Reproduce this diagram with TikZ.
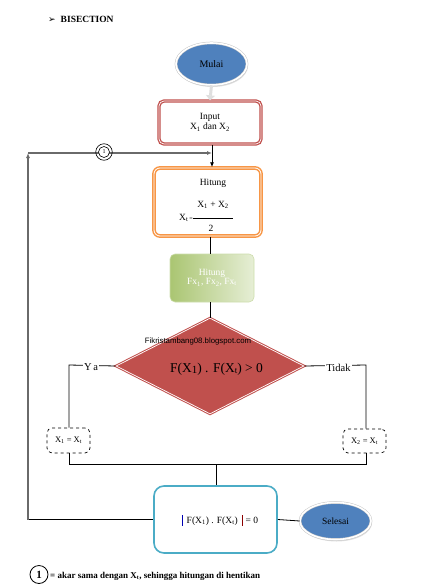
\documentclass[tikz,border=0pt]{standalone}
\usepackage{fontspec}
\setmainfont{Liberation Serif}
\newfontfamily\dejavu{DejaVu Sans}
\newfontfamily\wmfont{Liberation Sans}
\usetikzlibrary{shapes.geometric,arrows.meta,shadows}
\definecolor{sblue}{HTML}{4F81BD}
\definecolor{sred}{HTML}{C0504D}
\definecolor{sorange}{HTML}{F79646}
\definecolor{sgreen}{HTML}{9BBB59}
\definecolor{steal}{HTML}{4BACC6}
\definecolor{loopgray}{HTML}{6A6A6A}
\tikzset{
  fs/.style={font=\fontsize{#1}{11}\selectfont},
  startend/.style={ellipse, fill=sblue, draw=gray!45, double=white, double distance=1.6pt, line width=0.5pt,
    drop shadow={opacity=0.25, shadow xshift=1pt, shadow yshift=-2pt}, inner sep=0pt},
  inbox/.style={rectangle, rounded corners=5pt, draw=sred, double=white, double distance=0.7pt, line width=1.3pt,
    fill=white, align=center, inner sep=0pt},
  calcbox/.style={rectangle, rounded corners=6pt, draw=sorange, double=white, double distance=0.8pt, line width=1.5pt,
    fill=white, inner sep=0pt},
  greenbox/.style={rectangle, rounded corners=5pt, draw=sgreen!50, line width=0.6pt,
    left color=sgreen!85, right color=sgreen!25, align=center, inner sep=0pt, text=white},
  decision/.style={diamond, fill=sred, draw=sred, double=white, double distance=0.7pt, line width=1pt,
    inner sep=0pt},
  dashbox/.style={rectangle, rounded corners=5pt, draw, dashed, line width=0.7pt, fill=white, inner sep=0pt},
  endbox/.style={rectangle, rounded corners=10pt, draw=steal, line width=1.6pt, fill=white, inner sep=0pt},
  conn/.style={draw=black, line width=0.8pt},
  loopline/.style={draw=loopgray, line width=1.3pt},
  lbl/.style={fill=white, inner sep=1.5pt, font=\fontsize{10.5}{12}\selectfont},
}
\begin{document}
\begin{tikzpicture}[x=1pt,y=-1pt]
\useasboundingbox (0,0) rectangle (433,586);

% title
\node[anchor=west, inner sep=0pt] (title) at (48,19)
  {{\dejavu\fontsize{9}{10}\selectfont ➢}\hspace{5pt}{\bfseries\fontsize{9.5}{11}\selectfont BISECTION}};

% nodes
\node[startend, minimum width=71pt, minimum height=42pt, fs=10] (mulai) at (211.5,64) {Mulai};
\node[inbox, minimum width=102pt, minimum height=43pt, fs=9.5] (input) at (210,122.5)
  {Input\\[-1pt]X\textsubscript{1} dan X\textsubscript{2}};
\node[calcbox, minimum width=107pt, minimum height=68pt] (hitung) at (207.5,202) {};
\node[fs=9.5, inner sep=0pt] (hitt) at (213,183.5) {Hitung};
\node[fs=9.5, inner sep=0pt] (num) at (213,205) {X\textsubscript{1} + X\textsubscript{2}};
\coordinate (fl) at (193,218);
\coordinate (fr) at (233,218);
\node[fs=9.5, inner sep=0pt, anchor=east] (xt) at (193,217.5) {X\textsubscript{t}{\fontsize{6}{7}\selectfont\,=}};
\node[fs=9.5, inner sep=0pt] (den) at (211,228.5) {2};
\node[greenbox, minimum width=84pt, minimum height=48pt, fs=9.5] (green) at (212,278)
  {Hitung\\[-2pt]Fx\textsubscript{1}, Fx\textsubscript{2}, Fx\textsubscript{t}};
\node[decision, minimum width=188pt, minimum height=96pt] (dia) at (210,366) {};
\node[fs=13.5, inner sep=0pt] (diat) at (216.5,369)
  {F(X\raisebox{-1pt}{\fontsize{11}{12}\selectfont 1}) . F(X\raisebox{-1.5pt}{\fontsize{9}{10}\selectfont t}) > 0};
\node[font=\wmfont\fontsize{7.8}{9}\selectfont, inner sep=0pt] (wm) at (198,341) {Fikristambang08.blogspot.com};

\node[dashbox, minimum width=43pt, minimum height=25pt, fs=8.5] (lbox) at (68.5,440.5)
  {X\textsubscript{1} = X\textsubscript{t}};
\node[dashbox, minimum width=43pt, minimum height=24pt, fs=8.5] (rbox) at (364.5,441)
  {X\textsubscript{2} = X\textsubscript{t}};

\node[endbox, minimum width=123pt, minimum height=67pt] (final) at (215.5,519.5) {};
\node[fs=9.5, inner sep=0pt] (finalt) at (220,520)
  {\textcolor{blue!70!black}{\rule[-2.5pt]{0.9pt}{11pt}}\hspace{4pt}F(X\textsubscript{1}) . F(X\textsubscript{t})\hspace{4pt}\textcolor{red!55!black}{\rule[-2.5pt]{0.9pt}{11pt}}\hspace{3pt}= 0};
\node[startend, minimum width=71pt, minimum height=37pt, fs=9.5] (selesai) at (335.5,521) {Selesai};

% connectors
\draw[draw=gray!25, line width=3pt, -{Triangle[width=9pt,length=5pt]}] (mulai.south) -- (input.north);

\coordinate (j) at (212,153);
\coordinate (lt) at (28,153);
\draw[conn, -{Latex[length=5pt,width=4pt]}] (input.south -| j) -- (hitung.north -| j);
\draw[loopline, -{Latex[length=5pt,width=4pt]}] (lt) -- (j);
\node[circle, draw, fill=white, minimum size=11pt, inner sep=0pt, line width=0.6pt,
      font=\fontsize{6}{7}\selectfont] (c1) at (104,152) {1};
\node[circle, draw, minimum size=16.5pt, line width=0.6pt] (c1o) at (c1) {};

\coordinate (cx) at (210,0);
\draw[conn] (hitung.south -| cx) -- (green.north -| cx);
\draw[conn] (green.south -| cx) -- (dia.north);

\coordinate (lj) at (69,365);
\coordinate (rj) at (366,365);
\draw[conn] (dia.west) -- (lj) -- (lbox.north -| lj);
\draw[conn] (dia.east) -- (rj) -- (rbox.north -| rj);
\node[lbl] (ya) at (91,367.5) {Y\,a};
\node[lbl] (tidak) at (338.5,367.5) {Tidak};

\coordinate (bj) at (216,464);
\draw[conn] (lbox.south -| lj) -- (lj |- bj) -- (rj |- bj) -- (rbox.south -| rj);
\draw[conn] (bj) -- (final.north -| bj);

\draw[conn] (final.west) -- (final.west -| lt);
\draw[loopline, -{Latex[length=5pt,width=4pt]}] (final.west -| lt) -- (lt);
\draw[conn] (final.east) -- (selesai.west);

\draw[line width=0.7pt] (fl) -- (fr);

% footnote
\node[circle, draw, line width=0.8pt, minimum size=18pt, inner sep=0pt, font=\bfseries\fontsize{11}{12}\selectfont] (fc) at (39,574.5) {1};
\node[anchor=west, inner sep=0pt, font=\bfseries\fontsize{9}{10}\selectfont] (fnote) at (50,576)
  {= akar sama dengan X\textsubscript{t}, sehingga hitungan di hentikan};
\end{tikzpicture}
\end{document}
